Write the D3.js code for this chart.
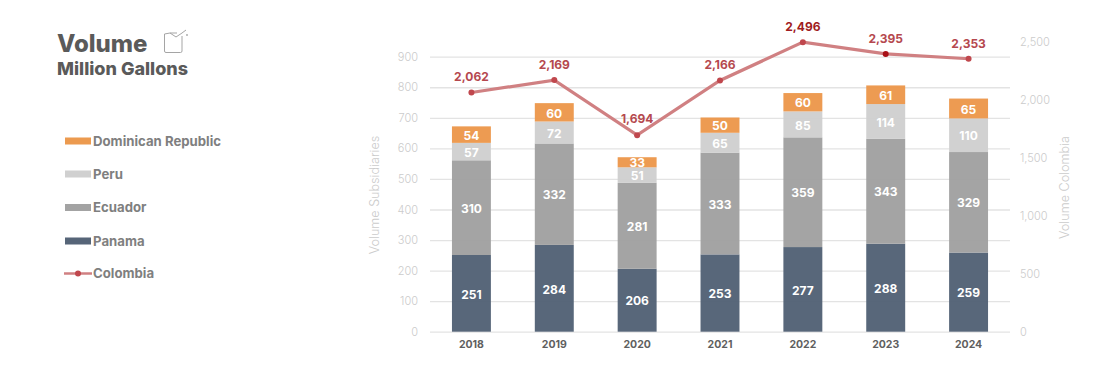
<!DOCTYPE html>
<html><head><meta charset="utf-8">
<script src="https://cdn.jsdelivr.net/npm/d3@7/dist/d3.min.js"></script>
<style>html,body{margin:0;padding:0;background:#fff}svg{display:block}text{font-family:Inter,Lato,sans-serif}</style>
</head><body><svg id="c" width="1118" height="373"></svg>
<script>
const years=["2018","2019","2020","2021","2022","2023","2024"];
const panama=[251,284,206,253,277,288,259];
const ecuador=[310,332,281,333,359,343,329];
const peru=[57,72,51,65,85,114,110];
const dominican=[54,60,33,50,60,61,65];
const colombia=[2062,2169,1694,2166,2496,2395,2353];
const leftTicks=[0,100,200,300,400,500,600,700,800,900];
const rightTicks=[0,500,1000,1500,2000,2500];
const seriesNames=["Panama","Ecuador","Peru","Dominican Republic"];
const seriesColors=["#536276","#a1a1a1","#cfcfcf","#ec984c"];
const stackSeries=[panama,ecuador,peru,dominican];
const legendNames=["Dominican Republic","Peru","Ecuador","Panama","Colombia"];
const legendColors=["#ec9a4f","#d0d0d0","#a3a3a3","#566578","#d08082"];

const svg=d3.select("#c");
const x=d3.scaleBand().domain(years).range([430,1010]).paddingInner(0.53).paddingOuter(0.265);
const yL=d3.scaleLinear().domain([0,900]).range([331.7,56.7]);
const yR=d3.scaleLinear().domain([0,2500]).range([331.7,41.7]);

const tickColor="#cbcbcb";
const gl=svg.append("g").attr("transform","translate(430,0)").call(d3.axisLeft(yL).tickValues(leftTicks).tickSize(-580).tickPadding(12));
gl.select(".domain").remove();
gl.selectAll("line").attr("stroke","#e3e3e3").attr("stroke-width",1.3);
gl.selectAll("text").attr("fill",tickColor).attr("font-size",11).attr("font-weight",300).style("font-family","Inter");
const gr=svg.append("g").attr("transform","translate(1010,0)").call(d3.axisRight(yR).tickValues(rightTicks).tickSize(0).tickPadding(10).tickFormat(d3.format(",")));
gr.select(".domain").remove();
gr.selectAll("text").attr("fill",tickColor).attr("font-size",11).attr("font-weight",300).style("font-family","Inter");
const gx=svg.append("g").attr("transform","translate(0,331.7)").call(d3.axisBottom(x).tickSize(0).tickPadding(9));
gx.select(".domain").remove();
gx.selectAll("text").attr("fill","#5f5f5f").attr("font-size",10.5).attr("font-weight",700).style("font-family","Inter");

const rows=years.map((y,i)=>{const r={year:y};seriesNames.forEach((n,k)=>r[n]=stackSeries[k][i]);return r;});
const stacked=d3.stack().keys(seriesNames)(rows);
const gs=svg.selectAll("g.s").data(stacked).join("g").attr("class","s");
gs.selectAll("rect").data(d=>d).join("rect")
 .attr("fill",function(){return seriesColors[stacked.indexOf(d3.select(this.parentNode).datum())];})
 .attr("fill-opacity",0.97)
 .attr("x",d=>x(d.data.year)).attr("width",x.bandwidth())
 .attr("y",d=>yL(d[1])).attr("height",d=>yL(d[0])-yL(d[1]));
gs.selectAll("text").data(d=>d).join("text")
 .attr("x",d=>x(d.data.year)+x.bandwidth()/2).attr("y",d=>yL((d[0]+d[1])/2)+5.2)
 .attr("text-anchor","middle").attr("fill","#fff").attr("font-size",12).attr("font-weight",700)
 .text(d=>d[1]-d[0]);

const cx=i=>x(years[i])+x.bandwidth()/2;
svg.append("path").datum(colombia).attr("fill","none").attr("stroke","#d08082").attr("stroke-width",3.2)
 .attr("d",d3.line().x((d,i)=>cx(i)).y(d=>yR(d)));
svg.selectAll("circle.p").data(colombia).join("circle").attr("class","p")
 .attr("cx",(d,i)=>cx(i)).attr("cy",d=>yR(d)).attr("r",3)
 .attr("fill",(d,i)=>i==5?"#a80f17":"#c0474d");
const labelGap=[12,11,12,11,11,11,11];
svg.selectAll("text.p").data(colombia).join("text").attr("class","p")
 .attr("x",(d,i)=>cx(i)).attr("y",(d,i)=>yR(d)-labelGap[i])
 .attr("text-anchor","middle").attr("font-size",12).attr("font-weight",700)
 .attr("fill",(d,i)=>i==4?"#a01c22":"#b5484e").text(d=>d3.format(",")(d));

svg.append("text").attr("transform","translate(379,195) rotate(-90)").attr("text-anchor","middle").attr("fill",tickColor).attr("font-size",12.6).attr("font-weight",300).text("Volume Subsidiaries");
svg.append("text").attr("transform","translate(1069,187.5) rotate(-90)").attr("text-anchor","middle").attr("fill",tickColor).attr("font-size",12.6).attr("font-weight",300).text("Volume Colombia");

svg.append("text").attr("x",57).attr("y",52).attr("fill","#5a5a5a").attr("font-size",24).attr("font-weight",800).text("Volume");
svg.append("text").attr("x",57).attr("y",75).attr("fill","#5a5a5a").attr("font-size",18).attr("font-weight",800).text("Million Gallons");
const ic=svg.append("g").attr("fill","none").attr("stroke","#a5a5a5").attr("stroke-width",1);
ic.append("path").attr("d","M164.5 34 L164.5 51 Q164.5 52.5 166 52.5 L180.5 52.5 Q182 52.5 182 51 L182 36");
ic.append("path").attr("d","M164.5 34 L170 33 L176 37 L182 33 L186 30 M170 33 L177 33");
svg.append("circle").attr("cx",187).attr("cy",35).attr("r",0.9).attr("fill","#a5a5a5");

const legY=[141,174,207.5,241,273.5];
legendNames.forEach((n,i)=>{
 const g=svg.append("g");
 if(n==="Colombia"){
  g.append("line").attr("x1",64).attr("x2",92).attr("y1",legY[i]).attr("y2",legY[i]).attr("stroke",legendColors[i]).attr("stroke-width",2.5);
  g.append("circle").attr("cx",78).attr("cy",legY[i]).attr("r",3).attr("fill","#c0474d");
 } else {
  g.append("rect").attr("x",65).attr("y",legY[i]-3.5).attr("width",26).attr("height",7).attr("fill",legendColors[i]);
 }
 g.append("text").attr("x",93).attr("y",legY[i]+4.5).attr("fill","#7f7f7f").attr("font-size",13.2).attr("font-weight",700).text(n);
});
</script></body></html>
